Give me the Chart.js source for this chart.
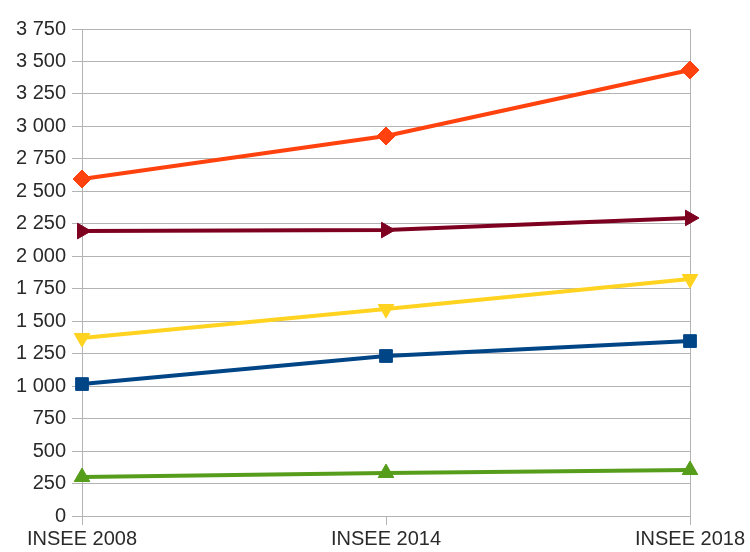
<!DOCTYPE html>
<html>
<head>
<meta charset="utf-8">
<script src="https://cdn.jsdelivr.net/npm/chart.js@4/dist/chart.umd.min.js"></script>
<style>
  html, body { margin: 0; padding: 0; background: #fff; }
  #wrap { width: 750px; height: 552px; }
</style>
</head>
<body>
<div id="wrap"><canvas id="chart" width="750" height="552"></canvas></div>
<script>
const labels = ["INSEE 2008", "INSEE 2014", "INSEE 2018"];
const seriesOrange = [2595, 2926, 3434];
const seriesMaroon = [2194, 2202, 2295];
const seriesYellow = [1371, 1594, 1825];
const seriesBlue = [1016, 1232, 1347];
const seriesGreen = [300, 331, 354];

const gridColor = "#b3b3b3";

function fmt(v) {
    return String(v).replace(/\B(?=(\d{3})+(?!\d))/g, " ");
}

function line(data, color, style, rotation) {
    return {
        data: data,
        borderColor: color,
        backgroundColor: color,
        borderWidth: 4,
        pointStyle: style,
        pointRotation: rotation,
        pointRadius: 9,
        pointHoverRadius: 9,
        pointBorderWidth: 1,
        tension: 0
    };
}

new Chart(document.getElementById("chart"), {
    type: "line",
    data: {
        labels: labels,
        datasets: [
            line(seriesOrange, "#ff420e", "rectRot", 0),
            line(seriesMaroon, "#7e0021", "triangle", 90),
            line(seriesYellow, "#ffd320", "triangle", 180),
            line(seriesBlue, "#004586", "rect", 0),
            line(seriesGreen, "#579d1c", "triangle", 0)
        ]
    },
    options: {
        responsive: false,
        animation: false,
        layout: { padding: { top: 29, right: 60, left: 0, bottom: 0 } },
        plugins: { legend: { display: false }, tooltip: { enabled: false } },
        scales: {
            x: {
                offset: false,
                border: { display: false },
                grid: {
                    color: ctx => ctx.index === 1 ? "rgba(0,0,0,0)" : gridColor,
                    tickColor: gridColor,
                    tickLength: 9,
                    lineWidth: 1
                },
                ticks: {
                    color: "#2a2a2a",
                    font: { family: "Liberation Sans", size: 20 },
                    padding: 2,
                    maxRotation: 0
                },
                afterFit: s => { s.height = 36; }
            },
            y: {
                min: 0,
                max: 3750,
                border: { display: false },
                grid: { color: gridColor, tickLength: 10, lineWidth: 1 },
                ticks: {
                    stepSize: 250,
                    color: "#2a2a2a",
                    font: { family: "Liberation Sans", size: 20 },
                    padding: 6,
                    callback: v => fmt(v)
                },
                afterFit: s => { s.width = 82; }
            }
        }
    }
});
</script>
</body>
</html>
